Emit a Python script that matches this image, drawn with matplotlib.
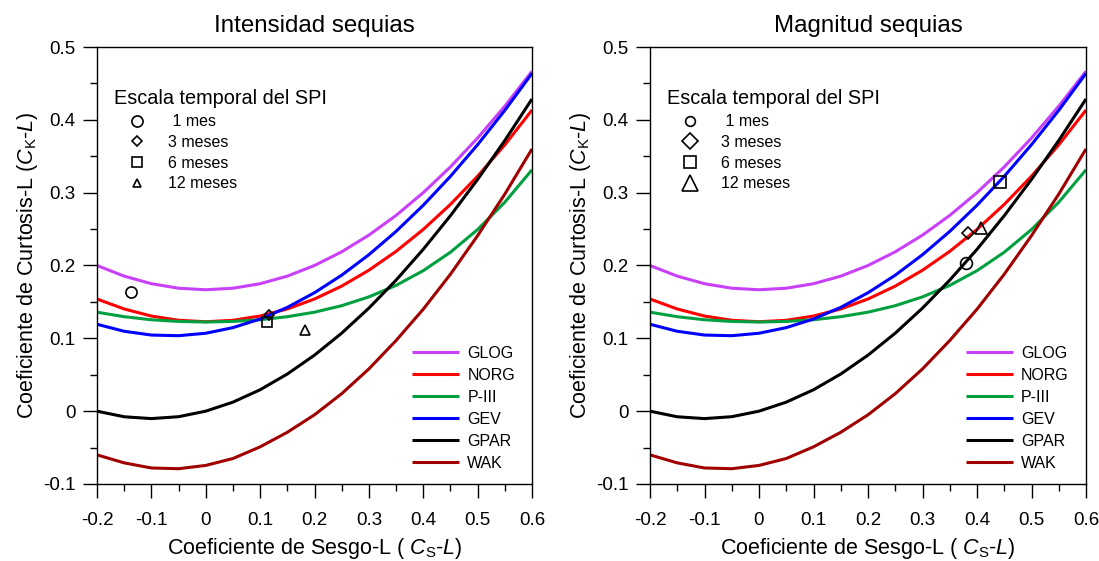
import matplotlib
matplotlib.use('Agg')
import matplotlib.pyplot as plt
from matplotlib.lines import Line2D
from matplotlib.ticker import MultipleLocator, FuncFormatter

plt.rcParams['font.family'] = ['Liberation Sans', 'DejaVu Sans']
plt.rcParams['mathtext.fontset'] = 'custom'
plt.rcParams['mathtext.rm'] = 'Liberation Sans'
plt.rcParams['mathtext.it'] = 'Liberation Sans:italic'
plt.rcParams['mathtext.bf'] = 'Liberation Sans:bold'

# L-skewness grid (x) and L-kurtosis values of each theoretical curve
skew = [-0.2, -0.15, -0.1, -0.05, 0.0, 0.05, 0.1, 0.15, 0.2, 0.25, 0.3, 0.35, 0.4, 0.45, 0.5, 0.55, 0.6]
glog = [0.2000, 0.1854, 0.1750, 0.1688, 0.1667, 0.1688, 0.1750, 0.1854, 0.2000, 0.2188, 0.2417,
        0.2688, 0.3000, 0.3354, 0.3750, 0.4188, 0.4667]
norg = [0.1540, 0.1403, 0.1306, 0.1248, 0.1228, 0.1248, 0.1306, 0.1403, 0.1540, 0.1717, 0.1935,
        0.2194, 0.2495, 0.2839, 0.3226, 0.3657, 0.4134]
p3 = [0.1359, 0.1297, 0.1255, 0.1232, 0.1224, 0.1232, 0.1255, 0.1297, 0.1359, 0.1448, 0.1569,
      0.1727, 0.1929, 0.2182, 0.2494, 0.2869, 0.3314]
gev = [0.1193, 0.1097, 0.1045, 0.1036, 0.1070, 0.1147, 0.1265, 0.1425, 0.1626, 0.1867, 0.2148,
       0.2468, 0.2827, 0.3224, 0.3659, 0.4130, 0.4638]
gpar = [0.0000, -0.0077, -0.0102, -0.0076, 0.0000, 0.0124, 0.0294, 0.0510, 0.0769, 0.1071, 0.1415,
        0.1799, 0.2222, 0.2684, 0.3182, 0.3716, 0.4286]
wak = [-0.0600, -0.0710, -0.0780, -0.0790, -0.0745, -0.0650, -0.0490, -0.0290, -0.0050, 0.0240,
       0.0580, 0.0970, 0.1400, 0.1880, 0.2410, 0.2980, 0.3600]

curve_names = ['GLOG', 'NORG', 'P-III', 'GEV', 'GPAR', 'WAK']
curve_values = [glog, norg, p3, gev, gpar, wak]
curve_colors = ['#C840F8', '#FF0000', '#00A040', '#0000FF', '#000000', '#A00000']

# Sample points (SPI time scales)
scale_labels = [' 1 mes', '3 meses', '6 meses', '12 meses']
scale_markers = ['o', 'D', 's', '^']
int_skew = [-0.138, 0.116, 0.112, 0.182]
int_kurt = [0.164, 0.132, 0.123, 0.111]
mag_skew = [0.379, 0.384, 0.443, 0.407]
mag_kurt = [0.203, 0.244, 0.314, 0.251]

titles = ['Intensidad sequias', 'Magnitud sequias']
point_sizes = [[8, 5.5, 7, 7.5], [8.5, 6.5, 8.5, 8.5]]
legend_sizes = [[8, 5.5, 7.5, 6], [7, 8, 8, 11]]

fig = plt.figure(figsize=(10.99, 5.61), dpi=100)
axes = [fig.add_axes([97 / 1099, 77 / 561, 435 / 1099, 437 / 561]),
        fig.add_axes([650 / 1099, 77 / 561, 436 / 1099, 437 / 561])]
points = [(int_skew, int_kurt), (mag_skew, mag_kurt)]
fmt = FuncFormatter(lambda v, p: '0' if abs(v) < 1e-9 else ('%.1f' % v))

for k, ax in enumerate(axes):
    lines = []
    for name, vals, col in zip(curve_names, curve_values, curve_colors):
        ln, = ax.plot(skew, vals, color=col, lw=2.2, label=name, solid_capstyle='butt')
        lines.append(ln)
    xs, ys = points[k]
    for i in range(4):
        ax.plot([xs[i]], [ys[i]], linestyle='none', marker=scale_markers[i],
                markersize=point_sizes[k][i], markerfacecolor='none',
                markeredgecolor='black', markeredgewidth=1.2, zorder=5)

    ax.set_xlim(-0.2, 0.6)
    ax.set_ylim(-0.1, 0.5)
    ax.xaxis.set_major_locator(MultipleLocator(0.1))
    ax.xaxis.set_minor_locator(MultipleLocator(0.05))
    ax.yaxis.set_major_locator(MultipleLocator(0.1))
    ax.yaxis.set_minor_locator(MultipleLocator(0.05))
    ax.xaxis.set_major_formatter(fmt)
    ax.yaxis.set_major_formatter(fmt)
    ax.tick_params(which='major', length=10, width=1, direction='out', labelsize=13.5,
                   top=False, right=False)
    ax.tick_params(which='minor', length=5, width=1, direction='out', top=False, right=False)
    ax.tick_params(axis='x', which='major', pad=10)
    ax.tick_params(axis='y', which='major', pad=5.5)
    for sp in ax.spines.values():
        sp.set_linewidth(1.0)

    ax.set_title(titles[k], fontsize=17.4, pad=11)
    ax.set_xlabel(r'Coeficiente de Sesgo-L ( $C_\mathrm{S}$-$L$)', fontsize=15.5, labelpad=5)
    ax.set_ylabel(r'Coeficiente de Curtosis-L ($C_\mathrm{K}$-$L$)', fontsize=15.5, labelpad=2)

    handles = [Line2D([], [], linestyle='none', marker=scale_markers[i],
                      markersize=legend_sizes[k][i], markerfacecolor='none',
                      markeredgecolor='black', markeredgewidth=1.2) for i in range(4)]
    leg1 = ax.legend(handles, scale_labels, title='Escala temporal del SPI',
                     loc='upper left', bbox_to_anchor=(0.039, 0.903), frameon=False,
                     borderpad=0, borderaxespad=0, fontsize=11.5, title_fontsize=14.3,
                     handlelength=2.9, handletextpad=0.5, labelspacing=0.36,
                     alignment='left', numpoints=1)
    ax.add_artist(leg1)
    ax.legend(lines, curve_names, loc='lower right', bbox_to_anchor=(0.961, 0.030),
              frameon=False, borderpad=0, borderaxespad=0, fontsize=11.5,
              handlelength=2.94, handletextpad=0.5, labelspacing=0.44)

fig.savefig('out.png', dpi=100)
